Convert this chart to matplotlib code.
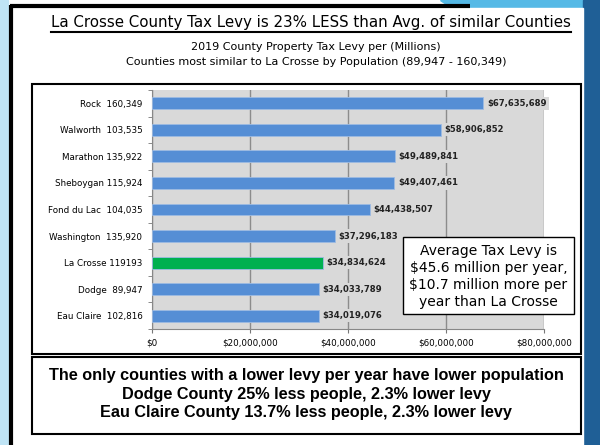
import matplotlib
matplotlib.use("Agg")
import matplotlib.pyplot as plt
from matplotlib.patches import Rectangle, Polygon
from matplotlib.ticker import FuncFormatter, FixedLocator

counties = ["Rock  160,349", "Walworth  103,535", "Marathon 135,922", "Sheboygan 115,924",
            "Fond du Lac  104,035", "Washington  135,920", "La Crosse 119193",
            "Dodge  89,947", "Eau Claire  102,816"]
levies = [67635689, 58906852, 49489841, 49407461, 44438507, 37296183, 34834624, 34033789, 34019076]
highlight = "La Crosse 119193"
xticks = [0, 20000000, 40000000, 60000000, 80000000]

W, H = 600, 445
fig = plt.figure(figsize=(6, 4.45), dpi=100)
fig.patch.set_facecolor("white")

def fx(x):
    return x / W

def fy(y):
    return 1 - y / H

# background decoration
deco = fig.add_axes([0, 0, 1, 1], zorder=-5)
deco.set_xlim(0, W)
deco.set_ylim(H, 0)
deco.axis("off")
deco.add_patch(Polygon([[0, 300], [0, 445], [60, 445]], closed=True, color="#3fb4e6", alpha=0.85))
deco.add_patch(Polygon([[0, 0], [8, 0], [8, 445], [0, 445]], closed=True, color="#bfe4f5"))
deco.add_patch(Polygon([[420, 445], [600, 360], [600, 445]], closed=True, color="#2aa3dc"))
deco.add_patch(Polygon([[300, 445], [560, 420], [600, 445]], closed=True, color="#bfe4f5"))
deco.add_patch(Polygon([[440, 0], [600, 0], [600, 20], [470, 20]], closed=True, color="#55b9e6"))
deco.add_patch(Rectangle((583, 0), 17, 445, color="#1f5f96"))
deco.plot([11, 11], [5, 445], color="black", lw=3, solid_capstyle="butt")
deco.plot([10, 470], [6, 6], color="black", lw=3, solid_capstyle="butt")
deco.add_patch(Rectangle((13, 8), 570, 437, color="white"))
deco.add_patch(Rectangle((32, 84), 549, 270, fill=False, edgecolor="black", lw=1.5))
deco.add_patch(Rectangle((32, 357), 549, 77, facecolor="white", edgecolor="black", lw=1.5))

fig.text(fx(311), fy(22), "La Crosse County Tax Levy is 23% LESS than Avg. of similar Counties",
         ha="center", va="center", fontsize=10.8, family="DejaVu Sans")
deco.plot([51, 571], [32, 32], color="black", lw=1.5)
fig.text(fx(316), fy(47), "2019 County Property Tax Levy per (Millions)",
         ha="center", va="center", fontsize=8.0, family="DejaVu Sans")
fig.text(fx(316), fy(62), "Counties most similar to La Crosse by Population (89,947 - 160,349)",
         ha="center", va="center", fontsize=8.0, family="DejaVu Sans")

ax = fig.add_axes([fx(152), fy(329), (544 - 152) / W, (329 - 90) / H])
ax.set_facecolor("#d9d9d9")
n = len(counties)
ypos = list(range(n))[::-1]
colors = ["#00b050" if c == highlight else "#558ed5" for c in counties]
ax.barh(ypos, levies, height=0.45, color=colors, edgecolor="#9dbbe3", linewidth=0.6, zorder=3)
ax.set_xlim(0, 80000000)
ax.set_ylim(-0.5, n - 0.5)
ax.set_xticks(xticks)
ax.xaxis.set_major_formatter(FuncFormatter(lambda v, p: "${:,.0f}".format(v)))
ax.tick_params(axis="x", labelsize=6.3, length=3, color="#777777", pad=4, direction="out")
ax.set_yticks(ypos)
ax.set_yticklabels(counties, fontsize=6.3, family="DejaVu Sans")
ax.tick_params(axis="y", length=0, pad=7)
ax.yaxis.set_minor_locator(FixedLocator([i + 0.5 for i in range(-1, n)]))
ax.tick_params(axis="y", which="minor", length=3, color="#777777")
ax.grid(axis="x", color="#8c8c8c", lw=1, zorder=0)
for s in ["top", "right"]:
    ax.spines[s].set_visible(False)
ax.spines["left"].set_color("#888888")
ax.spines["bottom"].set_color("#888888")

for y, v in zip(ypos, levies):
    ax.text(v + 800000, y, "${:,.0f}".format(v), va="center", ha="left", fontsize=6.1,
            fontweight="bold", color="#222222", zorder=4, clip_on=False,
            bbox=dict(boxstyle="square,pad=0.25", facecolor="#d9d9d9", edgecolor="none"))

fig.add_artist(Rectangle((fx(403), fy(314)), 171 / W, 77 / H, transform=fig.transFigure,
                         facecolor="white", edgecolor="black", lw=1, zorder=9))
fig.text(fx(488.5), fy(276.5), "Average Tax Levy is\n$45.6 million per year,\n$10.7 million more per\nyear than La Crosse",
         ha="center", va="center", fontsize=10, family="DejaVu Sans", linespacing=1.27, zorder=10)

fig.text(fx(306), fy(394), "The only counties with a lower levy per year have lower population\n"
         "Dodge County 25% less people, 2.3% lower levy\n"
         "Eau Claire County 13.7% less people, 2.3% lower levy",
         ha="center", va="center", fontsize=11.7, fontweight="bold", family="Liberation Sans",
         linespacing=1.3)

fig.savefig("out.png", dpi=100)
